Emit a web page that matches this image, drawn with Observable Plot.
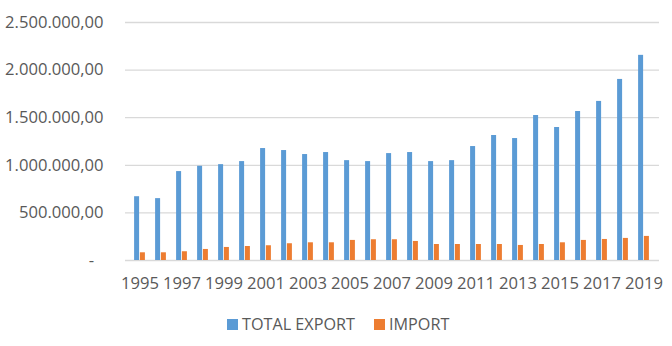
<!DOCTYPE html>
<html>
<head>
<meta charset="utf-8">
<script src="https://cdn.jsdelivr.net/npm/d3@7"></script>
<script src="https://cdn.jsdelivr.net/npm/@observablehq/plot@0.6"></script>
<style>
  html, body { margin: 0; padding: 0; background: #fff; }
  #wrap { width: 672px; height: 346px; position: relative; font-family: "Open Sans", sans-serif; color: #595959; }
  #legend { position: absolute; left: 0; top: 300px; width: 672px; height: 46px; font-size: 16.2px; }
  .item { position: absolute; top: 13px; display: flex; align-items: center; white-space: nowrap; }
  .sw { width: 11px; height: 11px; margin-right: 4px; display: inline-block; }
</style>
</head>
<body>
<div id="wrap">
  <div id="chart"></div>
  <div id="legend"></div>
</div>
<script>
const years = [1995,1996,1997,1998,1999,2000,2001,2002,2003,2004,2005,2006,2007,2008,2009,2010,2011,2012,2013,2014,2015,2016,2017,2018,2019];
const exportValues = [670000,650000,934000,990000,1007000,1039000,1176000,1155000,1113000,1134000,1049000,1039000,1123000,1134000,1039000,1049000,1197000,1313000,1281000,1523000,1397000,1565000,1671000,1902000,2155000];
const importValues = [81000,81000,92000,116000,137000,147000,155000,176000,186000,186000,211000,218000,218000,200000,168000,168000,168000,168000,158000,168000,186000,211000,221000,232000,253000];
const seriesNames = ["TOTAL EXPORT", "IMPORT"];
const seriesColors = ["#5B9BD5", "#ED7D31"];
const yTicks = [0, 500000, 1000000, 1500000, 2000000, 2500000];
const xTickLabels = years.filter((y, i) => i % 2 === 0);

const exportData = years.map((year, i) => ({year, value: exportValues[i], series: seriesNames[0]}));
const importData = years.map((year, i) => ({year, value: importValues[i], series: seriesNames[1]}));

const loc = d3.formatLocale({decimal: ",", thousands: ".", grouping: [3], currency: ["", ""]});
const fmt = loc.format(",.2f");

const plot = Plot.plot({
  width: 672,
  height: 300,
  marginTop: 22,
  marginBottom: 40,
  marginLeft: 125,
  marginRight: 13,
  style: {fontFamily: "Open Sans, sans-serif", fontSize: "16.6px", color: "#595959", background: "transparent"},
  x: {
    type: "band",
    domain: years,
    paddingInner: 0.74,
    paddingOuter: 0.37,
    tickSize: 0,
    tickPadding: 17,
    tickFormat: d => xTickLabels.includes(d) ? String(d) : "",
    label: null
  },
  y: {
    domain: [0, 2500000],
    ticks: yTicks,
    tickSize: 0,
    tickPadding: 22,
    tickFormat: d => d === 0 ? "-\u2007" : fmt(d),
    label: null
  },
  color: {domain: seriesNames, range: seriesColors},
  marks: [
    Plot.ruleY(yTicks, {stroke: "#d9d9d9", strokeWidth: 1.3}),
    Plot.barY(exportData, {x: "year", y: "value", fill: "series", dx: -2.9}),
    Plot.barY(importData, {x: "year", y: "value", fill: "series", dx: 2.9})
  ]
});
document.getElementById("chart").appendChild(plot);

const legend = document.getElementById("legend");
const lefts = [227, 374];
seriesNames.forEach((name, i) => {
  const item = document.createElement("div");
  item.className = "item";
  item.style.left = lefts[i] + "px";
  const sw = document.createElement("span");
  sw.className = "sw";
  sw.style.background = seriesColors[i];
  const t = document.createElement("span");
  t.textContent = name;
  item.appendChild(sw);
  item.appendChild(t);
  legend.appendChild(item);
});
</script>
</body>
</html>
